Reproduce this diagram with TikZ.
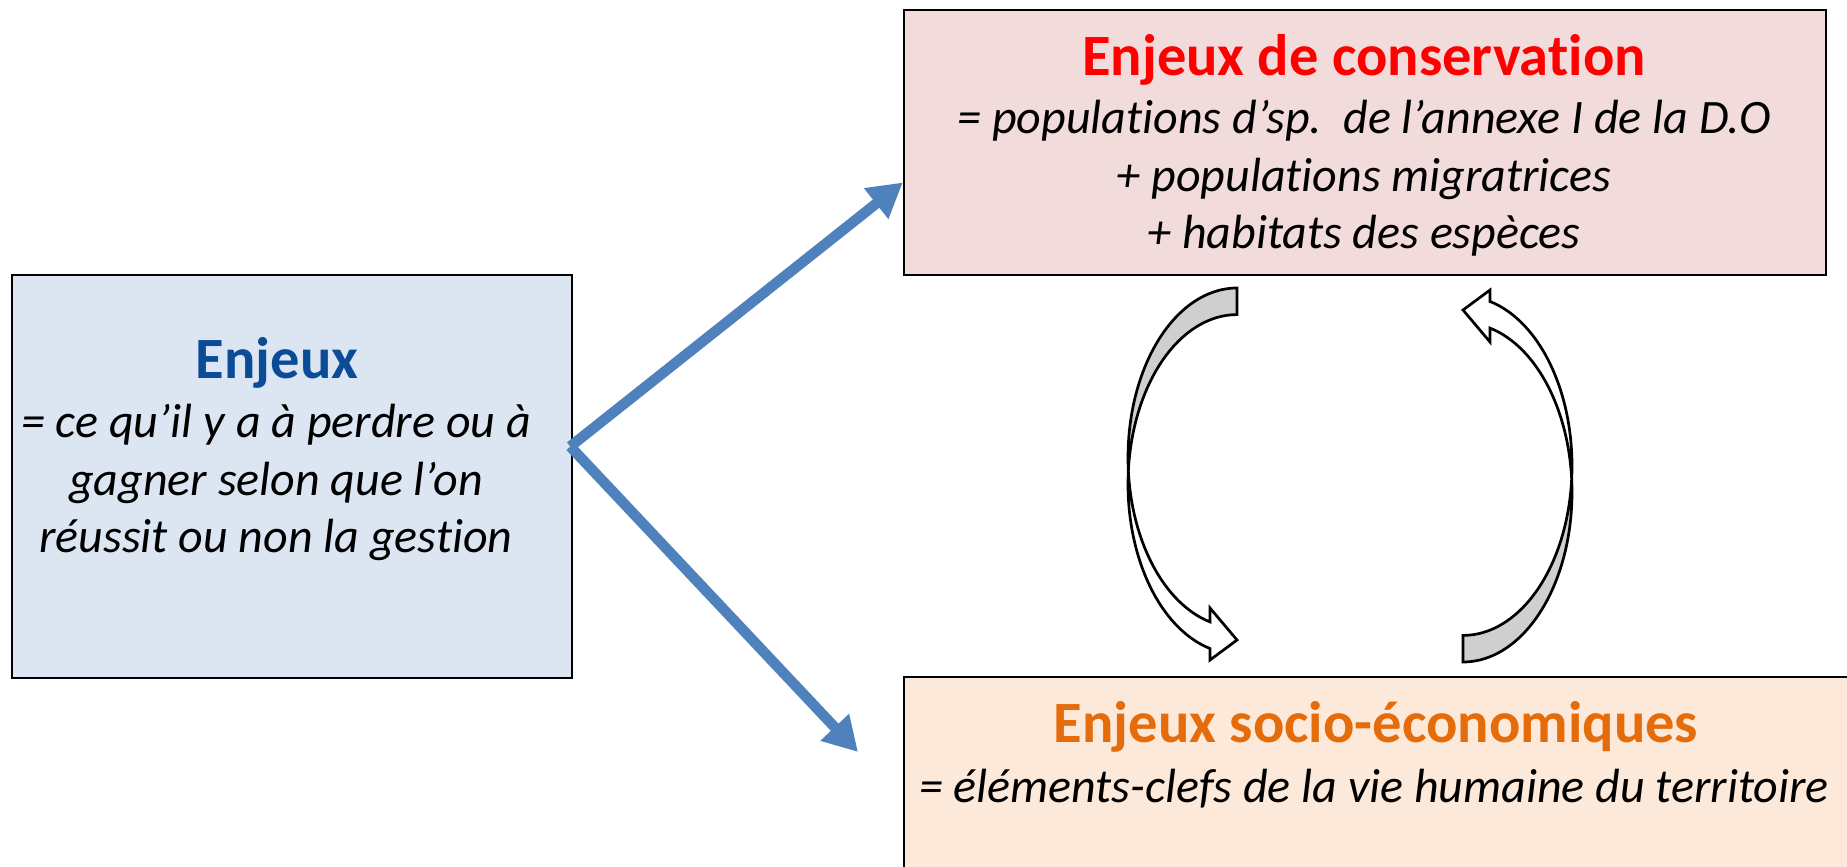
\documentclass[tikz,border=0pt]{standalone}
\usepackage{fontspec}
\setmainfont{Carlito}[Ligatures=NoCommon]
\usetikzlibrary{arrows.meta}
\definecolor{enjblue}{HTML}{0A4C96}
\definecolor{consred}{HTML}{FF0000}
\definecolor{socorange}{HTML}{E46C0A}
\definecolor{fillblue}{HTML}{DCE6F2}
\definecolor{fillpink}{HTML}{F2DCDB}
\definecolor{fillpeach}{HTML}{FDE9D9}
\definecolor{linkblue}{HTML}{4F81BD}
\definecolor{arrowgray}{HTML}{CFCFCF}
\newcommand{\cyclearrow}{%
  \filldraw[curvy, fill=arrowgray]
    plot[domain=270:175.5, samples=50] ({1237+109*cos(\x)},{457.6+169.6*sin(\x)})
    -- plot[domain=184.5:270, samples=50] ({1237+109*cos(\x)},{484.2+169.6*sin(\x)})
    -- cycle;
  \filldraw[curvy, fill=white]
    plot[domain=184.5:104.3, samples=60] ({1237+109*cos(\x)},{484.2+169.6*sin(\x)})
    -- (1210,660) -- (1237,640) -- (1210,608)
    -- plot[domain=104.3:175.5, samples=60] ({1237+109*cos(\x)},{457.6+169.6*sin(\x)})
    -- cycle;
}
\tikzset{
  box/.style={draw=black, line width=2.5pt, rectangle, inner sep=0pt},
  ttl/.style={anchor=base, inner sep=0pt, font=\fontsize{58.5}{70}\selectfont\bfseries},
  txt/.style={anchor=base, inner sep=0pt, font=\fontsize{48}{58}\selectfont\itshape},
  link/.style={draw=linkblue, line width=10.5pt, -{Triangle[length=34pt,width=37pt]}},
  curvy/.style={draw=black, line width=2.7pt, line join=miter}
}
\begin{document}
\begin{tikzpicture}[x=1pt,y=-1pt]
\useasboundingbox (0,0) rectangle (1847,867);
\clip (0,0) rectangle (1847,867);
\fill[white] (0,0) rectangle (1847,867);

% boxes
\node[box, fill=fillblue, minimum width=560pt, minimum height=403pt] (enj) at (292,476.5) {};
\node[box, fill=fillpink, minimum width=922pt, minimum height=265pt] (con) at (1365,142.5) {};
\node[box, fill=fillpeach, minimum width=946pt, minimum height=213pt] (soc) at (1377,783.5) {};

% texts left
\node[ttl, text=enjblue] (t1) at (277,378) {Enjeux};
\node[txt] (l1) at (276,437) {= ce qu’il y a à perdre ou à};
\node[txt] (l2) at (276,495) {gagner selon que l’on};
\node[txt] (l3) at (276,552) {réussit ou non la gestion};

% texts top right
\node[ttl, text=consred] (t2) at (1364,75) {Enjeux de conservation};
\node[txt] (c1) at (1364,133) {= populations d’sp.\ \ de l’annexe I de la D.O};
\node[txt] (c2) at (1364,191) {+ populations migratrices};
\node[txt] (c3) at (1364,248) {+ habitats des espèces};

% texts bottom right
\node[ttl, text=socorange] (t3) at (1376,742) {Enjeux socio-économiques};
\node[txt] (s1) at (1374,802) {= éléments-clefs de la vie humaine du territoire};

% blue connectors
\coordinate (hub) at ([xshift=-3pt,yshift=30pt]enj.east);
\coordinate (bend) at (858,752);
\draw[link] (hub) -- ([yshift=-40pt]con.west);
\draw[link] (hub) -- (bend);

% curved arrows
\cyclearrow
\begin{scope}[rotate around={180:(1350,475)}]
\cyclearrow
\end{scope}
\end{tikzpicture}
\end{document}
